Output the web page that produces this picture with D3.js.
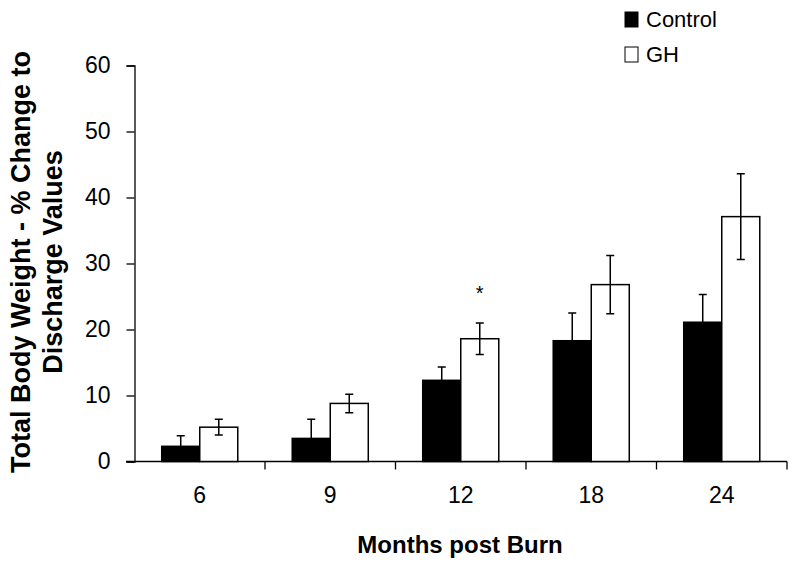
<!DOCTYPE html>
<html>
<head>
<meta charset="utf-8">
<script src="https://cdn.jsdelivr.net/npm/d3@7"></script>
<style>
  body { margin: 0; background: #fff; }
  text { font-family: "Liberation Sans", Arial, sans-serif; fill: #000; }
</style>
</head>
<body>
<div id="chart"></div>
<script>
// Data
var months = ["6", "9", "12", "18", "24"];
var series = ["Control", "GH"];
var controlMean = [2.3, 3.5, 12.3, 18.3, 21.1];
var controlErr = [1.6, 2.9, 2.0, 4.2, 4.2];
var ghMean = [5.2, 8.8, 18.6, 26.8, 37.1];
var ghErr = [1.2, 1.4, 2.4, 4.4, 6.5];
var yTicks = [0, 10, 20, 30, 40, 50, 60];
var significant = ["12"]; // asterisk over GH bar

var width = 800, height = 565;

var svg = d3.select("#chart").append("svg")
    .attr("width", width)
    .attr("height", height);

// scales
var x0 = d3.scaleBand().domain(months).range([134.5, 787]).padding(0);
var x1 = d3.scaleBand().domain(series).range([0, x0.bandwidth()])
    .paddingInner(0).paddingOuter(0.716);
var y = d3.scaleLinear().domain([0, 60]).range([461.5, 65.5]);

// build rows
var rows = months.map(function (m, i) {
    return [
        { month: m, key: "Control", v: controlMean[i], e: controlErr[i] },
        { month: m, key: "GH", v: ghMean[i], e: ghErr[i] }
    ];
});

// y axis
var yAxis = svg.append("g")
    .attr("transform", "translate(134.5,0)")
    .call(d3.axisLeft(y).tickValues(yTicks).tickSize(8).tickPadding(16));
yAxis.select(".domain").attr("stroke", "#000").attr("stroke-width", 1.3);
yAxis.selectAll(".tick line").attr("stroke", "#000").attr("stroke-width", 1.3);
yAxis.selectAll("text")
    .style("font-family", "'Liberation Sans', Arial, sans-serif")
    .style("font-size", "23px")
    .attr("fill", "#000");

// x axis
var xAxis = svg.append("g")
    .attr("transform", "translate(0,461.5)");
xAxis.append("line")
    .attr("x1", 126).attr("x2", 787)
    .attr("stroke", "#000").attr("stroke-width", 1.3);
var bounds = months.map(function (m) { return x0(m); }).concat([x0.range()[1]]);
xAxis.selectAll(".xt").data(bounds.slice(1))
    .enter().append("line")
    .attr("x1", function (d) { return d; })
    .attr("x2", function (d) { return d; })
    .attr("y1", 0).attr("y2", 8)
    .attr("stroke", "#000").attr("stroke-width", 1.3);
xAxis.selectAll(".xl").data(months)
    .enter().append("text")
    .attr("x", function (d) { return x0(d) + x0.bandwidth() / 2; })
    .attr("y", 41)
    .attr("text-anchor", "middle")
    .style("font-size", "23px")
    .text(function (d) { return d; });

// bars
var groups = svg.selectAll(".grp").data(rows)
    .enter().append("g")
    .attr("transform", function (d) { return "translate(" + x0(d[0].month) + ",0)"; });

groups.selectAll("rect").data(function (d) { return d; })
    .enter().append("rect")
    .attr("x", function (d) { return x1(d.key); })
    .attr("width", x1.bandwidth())
    .attr("y", function (d) { return y(d.v); })
    .attr("height", function (d) { return y(0) - y(d.v); })
    .attr("fill", function (d) { return d.key === "Control" ? "#000" : "#fff"; })
    .attr("stroke", "#000")
    .attr("stroke-width", 1.5);

// error bars (control only shows the upper half)
var cap = 4;
groups.selectAll(".err").data(function (d) { return d; })
    .enter().append("path")
    .attr("fill", "none")
    .attr("stroke", "#000")
    .attr("stroke-width", 1.5)
    .attr("d", function (d) {
        var cx = x1(d.key) + x1.bandwidth() / 2;
        var top = y(d.v + d.e);
        var bot = d.key === "Control" ? y(d.v) : y(d.v - d.e);
        var p = "M" + cx + "," + top + "V" + bot +
            "M" + (cx - cap) + "," + top + "H" + (cx + cap);
        if (d.key !== "Control") {
            p += "M" + (cx - cap) + "," + bot + "H" + (cx + cap);
        }
        return p;
    });

// significance marker
rows.forEach(function (r) {
    var g = r[1];
    if (significant.indexOf(g.month) < 0) return;
    svg.append("text")
        .attr("x", x0(g.month) + x1("GH") + x1.bandwidth() / 2)
        .attr("y", y(g.v + g.e) - 23)
        .attr("text-anchor", "middle")
        .style("font-size", "20px")
        .text("*");
});

// axis titles
svg.append("text")
    .attr("x", 460).attr("y", 553)
    .attr("text-anchor", "middle")
    .style("font-size", "24px")
    .style("font-weight", "bold")
    .text("Months post Burn");

var yTitle = svg.append("text")
    .attr("transform", "translate(0,262) rotate(-90)")
    .attr("text-anchor", "middle")
    .style("font-size", "27px")
    .style("font-weight", "bold");
yTitle.append("tspan").attr("x", 0).attr("y", 30).text("Total Body Weight - % Change to");
yTitle.append("tspan").attr("x", 0).attr("y", 62).text("Discharge Values");

// legend
var legend = svg.selectAll(".leg").data(series)
    .enter().append("g")
    .attr("transform", function (d, i) { return "translate(625," + (12 + i * 35) + ")"; });
legend.append("rect")
    .attr("width", 13).attr("height", 15)
    .attr("fill", function (d) { return d === "Control" ? "#000" : "#fff"; })
    .attr("stroke", "#000").attr("stroke-width", 1);
legend.append("text")
    .attr("x", 21).attr("y", 15)
    .style("font-size", "22px")
    .text(function (d) { return d; });
</script>
</body>
</html>
